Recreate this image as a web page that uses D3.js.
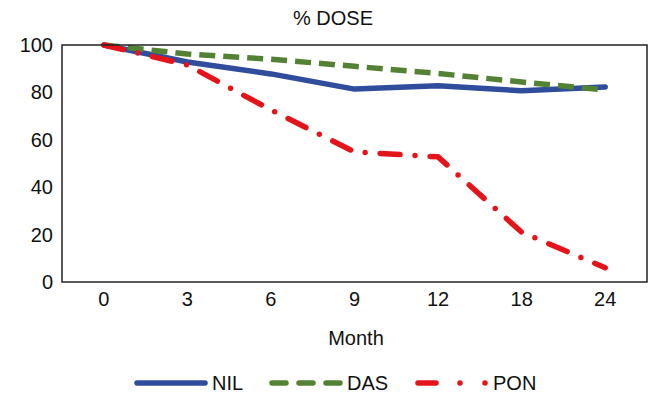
<!DOCTYPE html>
<html>
<head>
<script src="https://cdn.jsdelivr.net/npm/d3@7"></script>
<style>
  body { margin: 0; background: #fff; }
  text { font-family: "Liberation Sans", Arial, sans-serif; fill: #111; }
</style>
</head>
<body>
<script>
var months = ["0", "3", "6", "9", "12", "18", "24"];
var nil = [100, 92.8, 87.8, 81.4, 82.8, 80.7, 82.3];
var das = [100, 96.2, 94, 91, 88, 84.4, 81];
var pon = [100, 91.6, 72.6, 54.9, 52.8, 21, 6];
var yTicks = [0, 20, 40, 60, 80, 100];

var w = 654, h = 397;
var padding = { left: 62, right: 7, top: 45, bottom: 115 };

var series = [
  { name: "NIL", values: nil, color: "#2f4d9c", dash: null, cap: "round", legDash: null },
  { name: "DAS", values: das, color: "#548235", dash: "16,8", cap: "butt", legDash: "14,13" },
  { name: "PON", values: pon, color: "#e5141b", dash: "20,15,0,15", cap: "round", legDash: "18,24,0,25,0,100" }
];

var svg = d3.select("body").append("svg")
  .attr("width", w).attr("height", h);

var xScale = d3.scaleBand().domain(months)
  .range([padding.left, w - padding.right]);
var yScale = d3.scaleLinear().domain([0, 100])
  .range([h - padding.bottom, padding.top]);

// title
svg.append("text")
  .attr("x", 333).attr("y", 25)
  .attr("text-anchor", "middle")
  .style("font-size", "20px")
  .text("% DOSE");

// lines
var line = d3.line()
  .x(function (d, i) { return xScale(months[i]) + xScale.bandwidth() / 2; })
  .y(function (d) { return yScale(d); });

svg.selectAll("path.series")
  .data(series)
  .enter()
  .append("path")
  .attr("class", "series")
  .attr("fill", "none")
  .attr("stroke", function (d) { return d.color; })
  .attr("stroke-width", 5.5)
  .attr("stroke-linecap", function (d) { return d.cap; })
  .attr("stroke-linejoin", "round")
  .attr("stroke-dasharray", function (d) { return d.dash; })
  .attr("d", function (d) { return line(d.values); });

// plot box
svg.append("rect")
  .attr("x", padding.left).attr("y", padding.top)
  .attr("width", w - padding.left - padding.right)
  .attr("height", h - padding.top - padding.bottom)
  .attr("fill", "none")
  .attr("stroke", "#222")
  .attr("stroke-width", 1.5);

// axes
var xAxis = d3.axisBottom(xScale).tickSize(0).tickPadding(10);
var gx = svg.append("g")
  .attr("transform", "translate(0," + (h - padding.bottom) + ")")
  .call(xAxis);
gx.select(".domain").remove();
gx.selectAll("text").style("font-size", "20px").attr("fill", "#111");

var yAxis = d3.axisLeft(yScale).tickValues(yTicks).tickSize(0).tickPadding(9);
var gy = svg.append("g")
  .attr("transform", "translate(" + padding.left + ",0)")
  .call(yAxis);
gy.select(".domain").remove();
gy.selectAll("text").style("font-size", "20px").attr("fill", "#111");

// axis title
svg.append("text")
  .attr("x", 356).attr("y", 345)
  .attr("text-anchor", "middle")
  .style("font-size", "20px")
  .text("Month");

// legend
var legendX = [137, 272, 418];
var leg = svg.selectAll("g.legend")
  .data(series)
  .enter()
  .append("g")
  .attr("class", "legend")
  .attr("transform", function (d, i) { return "translate(" + legendX[i] + ",383)"; });

leg.append("line")
  .attr("x1", 0).attr("x2", 68)
  .attr("y1", 0).attr("y2", 0)
  .attr("stroke", function (d) { return d.color; })
  .attr("stroke-width", 5.5)
  .attr("stroke-linecap", "round")
  .attr("stroke-dasharray", function (d) { return d.legDash; });

leg.append("text")
  .attr("x", 75).attr("y", 7)
  .style("font-size", "20px")
  .text(function (d) { return d.name; });
</script>
</body>
</html>
